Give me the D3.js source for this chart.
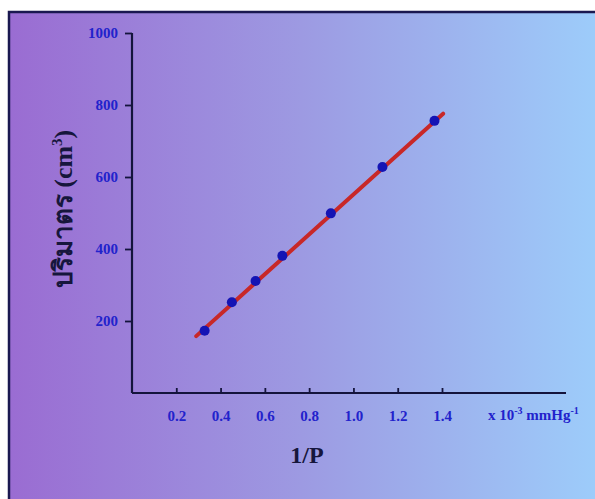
<!DOCTYPE html>
<html>
<head>
<meta charset="utf-8">
<script src="https://cdn.jsdelivr.net/npm/d3@7"></script>
<style>
  html, body { margin: 0; padding: 0; background: #fff; }
  svg { display: block; }
</style>
</head>
<body>
<div id="app"></div>
<script>
const width = 595,
  height = 499;

// data
const invP = [0.328, 0.451, 0.558, 0.679, 0.898, 1.131, 1.366];
const volume = [173, 252, 311, 381, 499, 628, 756];
const fitX = [0.29, 1.405];
const fitY = [158, 776];
const xTicks = [0.2, 0.4, 0.6, 0.8, 1.0, 1.2, 1.4];
const yTicks = [200, 400, 600, 800, 1000];

const x = d3.scaleLinear().domain([0, 1.96]).range([132, 566]);
const y = d3.scaleLinear().domain([0, 1000]).range([393, 33]);

const svg = d3.select("#app").append("svg")
  .attr("width", width)
  .attr("height", height);

// background gradient
const grad = svg.append("defs").append("linearGradient")
  .attr("id", "bg")
  .attr("x1", "0%").attr("x2", "100%")
  .attr("y1", "0%").attr("y2", "0%");
grad.append("stop").attr("offset", "0%").attr("stop-color", "#9a6cd2");
grad.append("stop").attr("offset", "50%").attr("stop-color", "#9d9ae2");
grad.append("stop").attr("offset", "100%").attr("stop-color", "#9dccfa");

svg.append("rect")
  .attr("x", 9).attr("y", 12)
  .attr("width", width - 9).attr("height", height - 12)
  .attr("fill", "url(#bg)");

// frame (top and left edges)
svg.append("path")
  .attr("d", `M9,${height}V12H${width}`)
  .attr("fill", "none")
  .attr("stroke", "#1a1850")
  .attr("stroke-width", 2.5);

const tickFont = "'Liberation Serif', 'DejaVu Serif', serif";

// y axis
const yAxis = svg.append("g")
  .attr("transform", `translate(${x(0)},0)`)
  .call(d3.axisLeft(y).tickValues(yTicks).tickSize(7).tickPadding(7).tickFormat(d3.format("d")));
yAxis.select(".domain").attr("d", `M0,${y(1000)}V${y(0)}`);

// x axis
const xAxis = svg.append("g")
  .attr("transform", `translate(0,${y(0)})`)
  .call(d3.axisBottom(x).tickValues(xTicks).tickSize(-5).tickPadding(17).tickFormat(d3.format(".1f")));
xAxis.select(".domain").attr("d", `M${x(0)},0H${x(1.96)}`);

svg.selectAll(".domain")
  .attr("stroke", "#14143c")
  .attr("stroke-width", 2.2);
svg.selectAll(".tick line")
  .attr("stroke", "#14143c")
  .attr("stroke-width", 1.8);
svg.selectAll(".tick text")
  .attr("fill", "#2222cc")
  .attr("font-family", tickFont)
  .attr("font-weight", "bold")
  .attr("font-size", 15);

// unit label
const unit = svg.append("text")
  .attr("x", 488).attr("y", 420)
  .attr("fill", "#2222cc")
  .attr("font-family", tickFont)
  .attr("font-weight", "bold")
  .attr("font-size", 15);
unit.append("tspan").text("x 10");
unit.append("tspan").attr("dy", -6).attr("font-size", 10).text("-3");
unit.append("tspan").attr("dy", 6).text(" mmHg");
unit.append("tspan").attr("dy", -6).attr("font-size", 10).text("-1");

// axis titles
svg.append("text")
  .attr("x", 307).attr("y", 463)
  .attr("text-anchor", "middle")
  .attr("fill", "#16163c")
  .attr("font-family", tickFont)
  .attr("font-weight", "bold")
  .attr("font-size", 24)
  .text("1/P");

const yTitle = svg.append("text")
  .attr("transform", "translate(72,209) rotate(-90)")
  .attr("text-anchor", "middle")
  .attr("fill", "#16163c")
  .attr("font-family", tickFont)
  .attr("font-weight", "bold")
  .attr("font-size", 26);
yTitle.append("tspan").text("ปริมาตร");
yTitle.append("tspan").text(" (cm");
yTitle.append("tspan").attr("dy", -10).attr("font-size", 15).text("3");
yTitle.append("tspan").attr("dy", 10).text(")");

// fitted line
svg.append("line")
  .attr("x1", x(fitX[0])).attr("y1", y(fitY[0]))
  .attr("x2", x(fitX[1])).attr("y2", y(fitY[1]))
  .attr("stroke", "#c82828")
  .attr("stroke-width", 4)
  .attr("stroke-linecap", "round");

// points
svg.append("g")
  .selectAll("circle")
  .data(invP)
  .join("circle")
  .attr("cx", d => x(d))
  .attr("cy", (d, i) => y(volume[i]))
  .attr("r", 5)
  .attr("fill", "#1414b4");
</script>
</body>
</html>
